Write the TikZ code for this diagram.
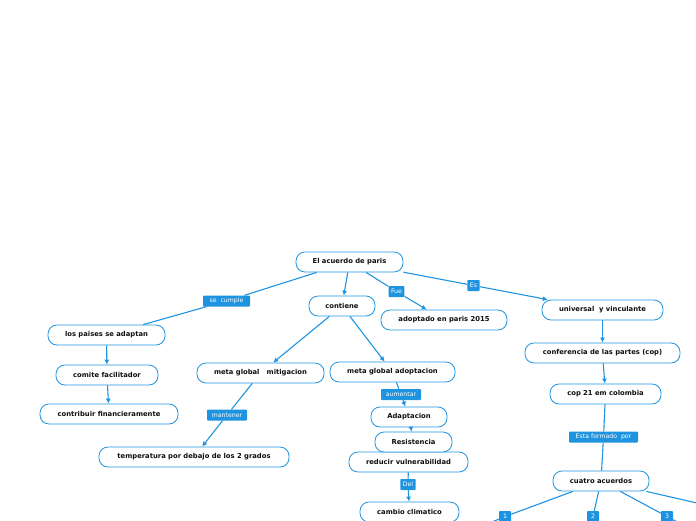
\documentclass[tikz,border=0pt]{standalone}
\usepackage{fontspec}
\setmainfont{DejaVu Sans}
\usetikzlibrary{arrows.meta}
\definecolor{mblue}{RGB}{30,148,224}
\definecolor{txt}{RGB}{15,15,15}
\tikzset{
  pill/.style={draw=mblue, line width=0.8pt, fill=white, rounded corners=9pt,
    minimum height=20pt, inner sep=1pt, text=txt, font=\fontsize{6.8}{8}\selectfont\bfseries},
  lbl/.style={fill=mblue, text=white, inner xsep=2.5pt, inner ysep=1.5pt, minimum height=11pt,
    rounded corners=0.8pt, font=\fontsize{6.2}{7}\selectfont},
  edge/.style={draw=mblue, line width=1.1pt},
  arr/.style={edge, -{Latex[length=5pt,width=5pt]}}
}
\begin{document}
\begin{tikzpicture}[x=1pt,y=-1pt]
\useasboundingbox (0,0) rectangle (696,520);
% nodes
\node[pill, minimum width=107pt] (root) at (349.5,262) {El acuerdo de paris};
\node[pill, minimum width=66pt] (cont) at (342,306) {contiene};
\node[pill, minimum width=126pt] (adop) at (444,320) {adoptado en paris 2015};
\node[pill, minimum width=121pt] (univ) at (602.5,310) {universal\ \ y vinculante};
\node[pill, minimum width=117pt] (pais) at (106.5,335) {los paises se adaptan};
\node[pill, minimum width=102pt] (comi) at (107,375) {comite facilitador};
\node[pill, minimum width=138pt] (contr) at (109,414) {contribuir financieramente};
\node[pill, minimum width=127pt] (miti) at (260.5,373) {meta global\ \ \ mitigacion};
\node[pill, minimum width=125pt] (madp) at (392.5,372) {meta global adoptacion};
\node[pill, minimum width=190pt] (temp) at (194,457) {temperatura por debajo de los 2 grados};
\node[pill, minimum width=155pt] (conf) at (602.5,353) {conferencia de las partes (cop)};
\node[pill, minimum width=111pt] (cop) at (605.5,394) {cop 21 em colombia};
\node[pill, minimum width=96pt] (cuat) at (601,481) {cuatro acuerdos};
\node[pill, minimum width=99pt] (camb) at (409.5,512) {cambio climatico};
\node[pill, minimum width=119pt] (redu) at (408.5,462) {reducir vulnerabilidad};
\node[pill, minimum width=77pt] (resi) at (413.5,442) {Resistencia};
\node[pill, minimum width=76pt] (adap) at (409,417) {Adaptacion};
% labels
\node[lbl, minimum width=47pt] (lcum) at (226.5,301) {se\ \ cumple};
\node[lbl] (lfue) at (396.5,291.5) {Fue};
\node[lbl] (les) at (473.5,285.5) {Es};
\node[lbl, minimum width=40pt] (lman) at (227,415) {mantener};
\node[lbl, minimum width=40pt] (laum) at (401,394.5) {aumentar};
\node[lbl] (ldel) at (408,484.5) {Del};
\node[lbl, minimum width=69pt] (lest) at (603.5,437) {Esta formado\ \ por};
\node[lbl, minimum width=12pt] (l1) at (505,516.5) {1};
\node[lbl, minimum width=12pt] (l2) at (593,516.5) {2};
\node[lbl, minimum width=12pt] (l3) at (667,516.5) {3};
\coordinate (off1) at (480,527);
\coordinate (off2) at (592,530);
\coordinate (off3) at (685,526);
\coordinate (off4) at (710,506);
% edges
\draw[arr] (root) -- (cont);
\draw[edge] (root) -- (lcum) -- (pais);
\draw[arr] (root) -- (lfue) -- (adop);
\draw[arr] (root) -- (les) -- (univ);
\draw[arr] (cont) -- (miti);
\draw[arr] (cont) -- (madp);
\draw[arr] (pais) -- (comi);
\draw[arr] (comi) -- (contr);
\draw[arr] (miti) -- (lman) -- (temp);
\draw[arr] (madp) -- (laum) -- (adap);
\draw[arr] (adap) -- (resi);
\draw[arr] (redu) -- (ldel) -- (camb);
\draw[arr] (univ) -- (conf);
\draw[arr] (conf) -- (cop);
\draw[edge] (cop) -- (lest) -- (cuat);
\draw[edge] (cuat) -- (l1) -- (off1);
\draw[edge] (cuat) -- (l2) -- (off2);
\draw[edge] (cuat) -- (l3) -- (off3);
\draw[edge] (cuat) -- (off4);
\end{tikzpicture}
\end{document}
